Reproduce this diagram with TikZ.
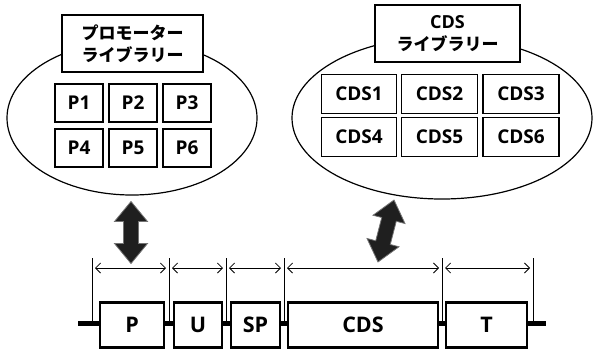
\documentclass[tikz,border=0pt]{standalone}
\usepackage{fontspec}
\setmainfont{Open Sans}
\newfontfamily\jp{Noto Sans CJK JP}
\newfontfamily\lat{Open Sans}
\usetikzlibrary{arrows.meta}
\tikzset{
  cell/.style={draw,line width=1.1pt,fill=white,inner sep=0pt,minimum height=38pt,
    font=\bfseries\fontsize{19}{22}\selectfont},
  title/.style={draw,line width=1.1pt,fill=white,inner sep=0pt,minimum height=57pt,align=center,
    font=\jp\bfseries\fontsize{17}{22}\selectfont},
  lib/.style={draw,line width=1.2pt},
  part/.style={draw,line width=2.6pt,fill=white,inner sep=0pt,minimum height=45pt,
    font=\bfseries\fontsize{21.5}{22}\selectfont},
  dimline/.style={line width=0.6pt},
  dim/.style={line width=0.8pt,{Straight Barb[length=5pt,width=10pt]}-{Straight Barb[length=5pt,width=10pt]}},
  bigarrow/.style={fill=black!88,draw=black!55,line width=0.8pt}
}
\begin{document}
\begin{tikzpicture}[x=1pt,y=-1pt]
\useasboundingbox (0,0) rectangle (593,354);
% libraries
\draw[lib] (132,118) ellipse [x radius=125,y radius=77];
\draw[lib] (442,118) ellipse [x radius=150,y radius=81];
\node[title,minimum width=141pt] (ptitle) at (132.5,43.5) {プロモーター\\ライブラリー};
\node[title,minimum width=145pt] (ctitle) at (447.5,33.5) {{\lat\bfseries\fontsize{18}{22}\selectfont CDS}\\ライブラリー};
\node[cell,minimum width=48pt] (p1) at (79,103) {P1};
\node[cell,minimum width=48pt] (p2) at (133,103) {P2};
\node[cell,minimum width=48pt] (p3) at (187,103) {P3};
\node[cell,minimum width=48pt] (p4) at (79,148) {P4};
\node[cell,minimum width=48pt] (p5) at (133,148) {P5};
\node[cell,minimum width=48pt] (p6) at (187,148) {P6};
\node[cell,minimum width=75pt,minimum height=39pt] (c1) at (359,94) {CDS1};
\node[cell,minimum width=76pt,minimum height=39pt] (c2) at (439.5,94) {CDS2};
\node[cell,minimum width=76pt,minimum height=39pt] (c3) at (521,94) {CDS3};
\node[cell,minimum width=75pt,minimum height=39pt] (c4) at (359,137) {CDS4};
\node[cell,minimum width=76pt,minimum height=39pt] (c5) at (439.5,137) {CDS5};
\node[cell,minimum width=76pt,minimum height=39pt] (c6) at (521,137) {CDS6};
% big double arrows
\begin{scope}[shift={(131,232.5)}]
\draw[bigarrow] (0,-31) -- (16.5,-11) -- (7.5,-11) -- (7.5,11) -- (16.5,11) -- (0,31)
  -- (-16.5,11) -- (-7.5,11) -- (-7.5,-11) -- (-16.5,-11) -- cycle;
\end{scope}
\begin{scope}[shift={(386,231)},rotate=-14.5]
\draw[bigarrow] (0,-32) -- (16.5,-12) -- (7.5,-12) -- (7.5,12) -- (16.5,12) -- (0,32)
  -- (-16.5,12) -- (-7.5,12) -- (-7.5,-12) -- (-16.5,-12) -- cycle;
\end{scope}
% backbone
\coordinate (bl) at (78,323);
\coordinate (br) at (546,323);
\draw[line width=5pt] (bl) -- (br);
\node[part,minimum width=64pt] (P) at (132,325) {P};
\node[part,minimum width=48pt] (U) at (198,325) {U};
\node[part,minimum width=49pt] (SP) at (255.5,325) {SP};
\node[part,minimum width=150pt] (CDS) at (363,325) {CDS};
\node[part,minimum width=81pt] (T) at (486.5,325) {T};
% dimension lines
\foreach \n/\x in {d0/92,d1/169,d2/226,d3/284,d4/442,d5/533}{
  \coordinate (\n t) at (\x,258);
  \coordinate (\n b) at (\x,323);
  \coordinate (\n l) at (\x+3,268);
  \coordinate (\n r) at (\x-3,268);
  \draw[dimline] (\n t) -- (\n b);
}
\draw[dim] (d0l) -- (d1r);
\draw[dim] (d1l) -- (d2r);
\draw[dim] (d2l) -- (d3r);
\draw[dim] (d3l) -- (d4r);
\draw[dim] (d4l) -- (d5r);
\end{tikzpicture}
\end{document}
